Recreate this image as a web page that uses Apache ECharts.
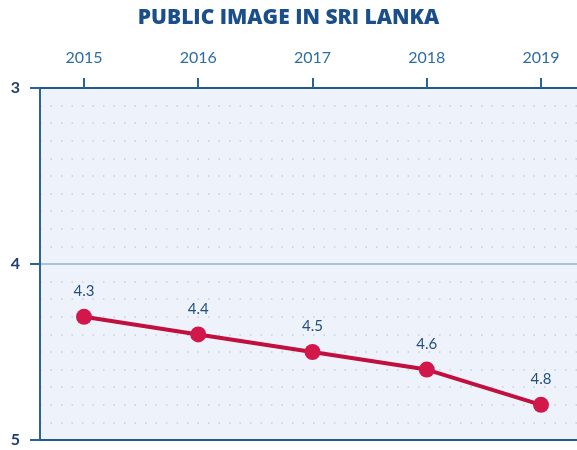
<!DOCTYPE html>
<html><head><meta charset="utf-8">
<script src="https://cdn.jsdelivr.net/npm/echarts@6/dist/echarts.min.js"></script>
<style>html,body{margin:0;padding:0;background:#fff}#c{width:577px;height:450px}</style>
</head><body><div id="c"></div>
<script>
const years = [2015, 2016, 2017, 2018, 2019];
const values = [4.3, 4.4, 4.5, 4.6, 4.8];
const yTicks = [3, 4, 5];

const chart = echarts.init(document.getElementById('c'));
chart.setOption({
  animation: false,
  backgroundColor: '#ffffff',
  title: {
    text: 'PUBLIC IMAGE IN SRI LANKA',
    left: 'center', top: 3,
    textStyle: { fontFamily: 'Open Sans', fontWeight: 800, fontSize: 21, color: '#1b4f8a' }
  },
  grid: { left: 40, right: 0, top: 88, bottom: 10, show: true, backgroundColor: '#eef3fb', borderWidth: 0 },
  xAxis: [{
    type: 'value', position: 'top',
    min: 2014.615, max: 2019.315,
    axisLine: { show: true, lineStyle: { color: '#1f5a8c', width: 2 } },
    axisTick: { show: true, customValues: years, length: 10, lineStyle: { color: '#2a6496', width: 2 } },
    axisLabel: { customValues: years, margin: 22, color: '#2e6da4', fontFamily: 'Lato', fontSize: 16, formatter: v => String(v) },
    splitLine: { show: false }
  }, {
    type: 'value', position: 'bottom',
    min: 2014.615, max: 2019.315,
    axisLine: { show: true, lineStyle: { color: '#1f5a8c', width: 2 } },
    axisTick: { show: false }, axisLabel: { show: false }, splitLine: { show: false }
  }],
  yAxis: {
    type: 'value', inverse: true, min: 3, max: 5, interval: 1,
    axisLine: { show: true, lineStyle: { color: '#2a6496', width: 2 } },
    axisTick: { show: true, length: 10, lineStyle: { color: '#2a6496', width: 2 } },
    axisLabel: { margin: 20, color: '#1d3f6e', fontFamily: 'Lato', fontWeight: 'bold', fontSize: 16,
      customValues: yTicks },
    splitLine: { show: true, lineStyle: { color: '#a7c6dd', width: 2 } },
    minorTick: { show: false, splitNumber: 10 },
    minorSplitLine: { show: true, lineStyle: { color: '#c3cedb', width: 1.5, type: [1.5, 9] } }
  },
  series: [{
    type: 'line', xAxisIndex: 0,
    data: years.map((y, i) => [y, values[i]]),
    symbol: 'circle', symbolSize: 16,
    itemStyle: { color: '#d2174a' },
    lineStyle: { color: '#c0103f', width: 4 },
    label: { show: true, position: 'top', distance: 10, color: '#22507f', fontFamily: 'Lato', fontSize: 15,
      formatter: p => p.value[1].toFixed(1) },
    z: 5
  }]
});
</script></body></html>
